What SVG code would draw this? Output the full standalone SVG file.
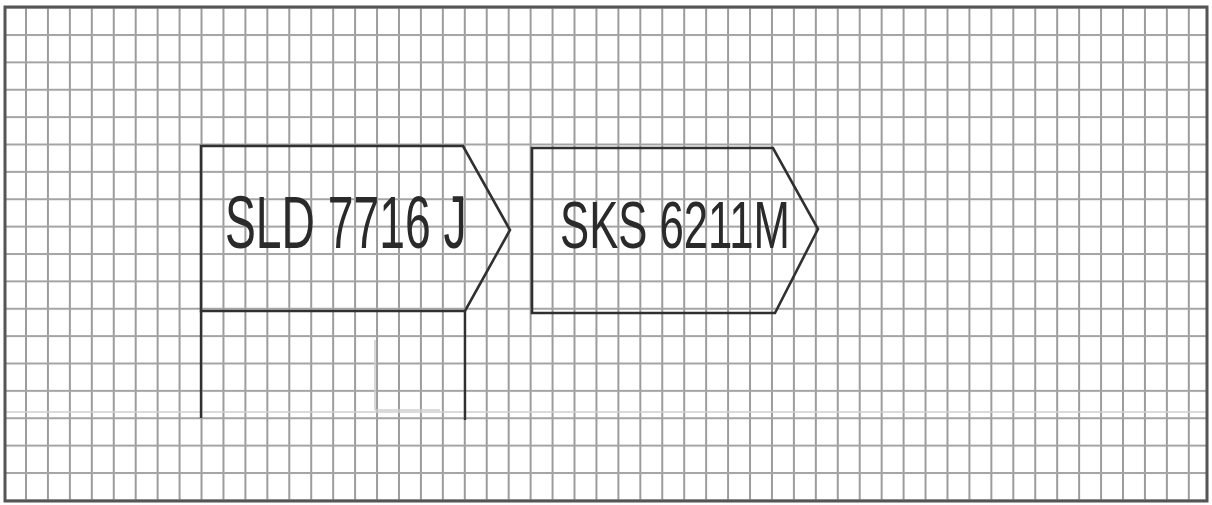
<svg xmlns="http://www.w3.org/2000/svg" width="1212" height="505" viewBox="0 0 1212 505">
  <defs>
    <pattern id="grid" x="25" y="34" width="21.94" height="27.375" patternUnits="userSpaceOnUse">
      <rect x="0" y="0" width="2" height="27.375" fill="#9c9c9c"/>
      <rect x="0" y="0" width="21.94" height="2" fill="#a4a4a4"/>
    </pattern>
    <style>
      .node { fill: none; stroke: #303030; stroke-width: 2.6; stroke-linejoin: miter; }
      .lbl { font-family: "Liberation Sans", Arial, sans-serif; fill: #2a2a2a; }
      .ext { stroke: #303030; stroke-width: 2.4; }
      .faint { stroke: #cfcfcf; stroke-width: 1.6; }
    </style>
  </defs>
  <rect x="0" y="0" width="1212" height="505" fill="#ffffff"/>
  <rect x="5" y="7" width="1202" height="494" fill="url(#grid)"/>
  <line x1="5" y1="412" x2="1207" y2="412" class="faint"/>
  <line x1="375" y1="340" x2="375" y2="410" class="faint"/>
  <line x1="375" y1="410" x2="440" y2="410" class="faint"/>
  <rect x="5" y="7" width="1202" height="494" fill="none" stroke="#555555" stroke-width="3"/>
  <g id="connectors">
    <line x1="201" y1="311" x2="201" y2="418" class="ext"/>
    <line x1="465" y1="311" x2="465" y2="420" class="ext"/>
  </g>
  <g id="node-sld7716j">
    <polygon class="node" points="201,146 463,146 510,230 465,311 201,311"/>
    <text class="lbl" font-size="75" transform="translate(225,248) scale(0.617,1)">SLD 7716 J</text>
  </g>
  <g id="node-sks6211m">
    <polygon class="node" points="532,148 773,148 818,229 775,313 532,313"/>
    <text class="lbl" font-size="67" transform="translate(560,248) scale(0.652,1)">SKS 6211M</text>
  </g>
</svg>
